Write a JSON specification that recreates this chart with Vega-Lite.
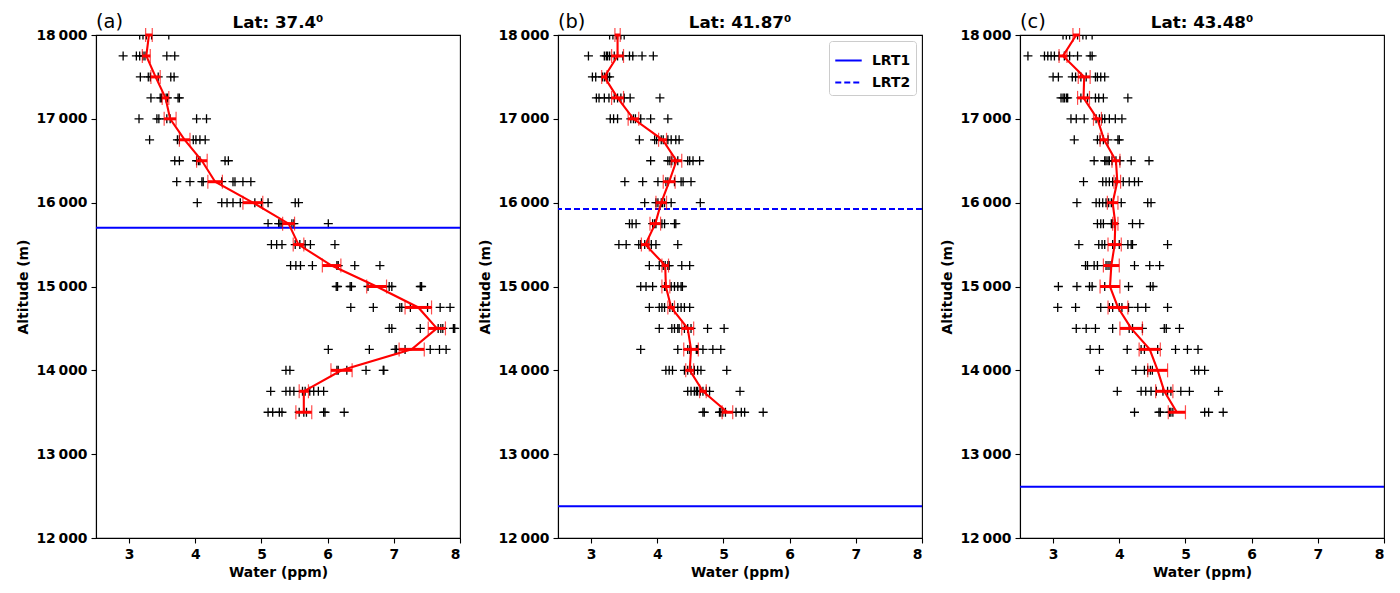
{
  "$schema": "https://vega.github.io/schema/vega-lite/v6.json",
  "background": "white",
  "padding": {"left": 16, "top": 10, "right": 5, "bottom": 5},
  "config": {
    "font": "DejaVu Sans",
    "view": {"stroke": "black", "strokeWidth": 1.1},
    "axis": {
      "grid": false,
      "labelFont": "DejaVu Sans",
      "labelFontWeight": "bold",
      "labelFontSize": 13.9,
      "labelColor": "black",
      "titleFont": "DejaVu Sans",
      "titleFontWeight": "bold",
      "titleFontSize": 13.9,
      "titleColor": "black",
      "tickColor": "black",
      "tickWidth": 1.1,
      "tickSize": 5,
      "labelPadding": 4,
      "titlePadding": 5,
      "domainColor": "black",
      "domainWidth": 1.1
    },
    "legend": {
      "labelFont": "DejaVu Sans",
      "labelFontSize": 13.9,
      "labelFontWeight": "bold",
      "labelColor": "black"
    }
  },
  "datasets": {
    "pts": [
      {"p":"a","alt":18000,"w":3.16},{"p":"a","alt":18000,"w":3.21},{"p":"a","alt":18000,"w":3.26},{"p":"a","alt":18000,"w":3.34},{"p":"a","alt":18000,"w":3.60},
      {"p":"a","alt":17750,"w":2.91},{"p":"a","alt":17750,"w":3.11},{"p":"a","alt":17750,"w":3.16},{"p":"a","alt":17750,"w":3.21},{"p":"a","alt":17750,"w":3.24},{"p":"a","alt":17750,"w":3.57},{"p":"a","alt":17750,"w":3.69},
      {"p":"a","alt":17500,"w":3.17},{"p":"a","alt":17500,"w":3.29},{"p":"a","alt":17500,"w":3.32},{"p":"a","alt":17500,"w":3.44},{"p":"a","alt":17500,"w":3.63},{"p":"a","alt":17500,"w":3.68},
      {"p":"a","alt":17250,"w":3.33},{"p":"a","alt":17250,"w":3.47},{"p":"a","alt":17250,"w":3.49},{"p":"a","alt":17250,"w":3.56},{"p":"a","alt":17250,"w":3.58},{"p":"a","alt":17250,"w":3.74},{"p":"a","alt":17250,"w":3.76},
      {"p":"a","alt":17000,"w":3.15},{"p":"a","alt":17000,"w":3.42},{"p":"a","alt":17000,"w":3.45},{"p":"a","alt":17000,"w":3.57},{"p":"a","alt":17000,"w":3.62},{"p":"a","alt":17000,"w":4.02},{"p":"a","alt":17000,"w":4.17},
      {"p":"a","alt":16750,"w":3.31},{"p":"a","alt":16750,"w":3.73},{"p":"a","alt":16750,"w":3.76},{"p":"a","alt":16750,"w":3.97},{"p":"a","alt":16750,"w":4.01},{"p":"a","alt":16750,"w":4.07},{"p":"a","alt":16750,"w":4.15},
      {"p":"a","alt":16500,"w":3.69},{"p":"a","alt":16500,"w":3.76},{"p":"a","alt":16500,"w":4.02},{"p":"a","alt":16500,"w":4.05},{"p":"a","alt":16500,"w":4.07},{"p":"a","alt":16500,"w":4.45},{"p":"a","alt":16500,"w":4.50},
      {"p":"a","alt":16250,"w":3.72},{"p":"a","alt":16250,"w":3.92},{"p":"a","alt":16250,"w":4.10},{"p":"a","alt":16250,"w":4.12},{"p":"a","alt":16250,"w":4.40},{"p":"a","alt":16250,"w":4.57},{"p":"a","alt":16250,"w":4.60},{"p":"a","alt":16250,"w":4.72},{"p":"a","alt":16250,"w":4.84},
      {"p":"a","alt":16000,"w":4.03},{"p":"a","alt":16000,"w":4.40},{"p":"a","alt":16000,"w":4.48},{"p":"a","alt":16000,"w":4.57},{"p":"a","alt":16000,"w":4.68},{"p":"a","alt":16000,"w":4.90},{"p":"a","alt":16000,"w":5.00},{"p":"a","alt":16000,"w":5.10},{"p":"a","alt":16000,"w":5.51},{"p":"a","alt":16000,"w":5.56},
      {"p":"a","alt":15750,"w":5.10},{"p":"a","alt":15750,"w":5.26},{"p":"a","alt":15750,"w":5.28},{"p":"a","alt":15750,"w":5.31},{"p":"a","alt":15750,"w":5.46},{"p":"a","alt":15750,"w":5.49},{"p":"a","alt":15750,"w":6.01},
      {"p":"a","alt":15500,"w":5.15},{"p":"a","alt":15500,"w":5.23},{"p":"a","alt":15500,"w":5.31},{"p":"a","alt":15500,"w":5.51},{"p":"a","alt":15500,"w":5.58},{"p":"a","alt":15500,"w":5.66},{"p":"a","alt":15500,"w":5.74},{"p":"a","alt":15500,"w":6.11},
      {"p":"a","alt":15250,"w":5.44},{"p":"a","alt":15250,"w":5.52},{"p":"a","alt":15250,"w":5.59},{"p":"a","alt":15250,"w":5.77},{"p":"a","alt":15250,"w":6.14},{"p":"a","alt":15250,"w":6.16},{"p":"a","alt":15250,"w":6.41},{"p":"a","alt":15250,"w":6.79},
      {"p":"a","alt":15000,"w":6.13},{"p":"a","alt":15000,"w":6.15},{"p":"a","alt":15000,"w":6.34},{"p":"a","alt":15000,"w":6.36},{"p":"a","alt":15000,"w":6.61},{"p":"a","alt":15000,"w":6.93},{"p":"a","alt":15000,"w":6.97},{"p":"a","alt":15000,"w":7.40},{"p":"a","alt":15000,"w":7.42},
      {"p":"a","alt":14750,"w":6.35},{"p":"a","alt":14750,"w":6.69},{"p":"a","alt":14750,"w":7.09},{"p":"a","alt":14750,"w":7.12},{"p":"a","alt":14750,"w":7.25},{"p":"a","alt":14750,"w":7.51},{"p":"a","alt":14750,"w":7.70},{"p":"a","alt":14750,"w":7.85},
      {"p":"a","alt":14500,"w":6.93},{"p":"a","alt":14500,"w":6.97},{"p":"a","alt":14500,"w":7.40},{"p":"a","alt":14500,"w":7.67},{"p":"a","alt":14500,"w":7.71},{"p":"a","alt":14500,"w":7.74},{"p":"a","alt":14500,"w":7.90},{"p":"a","alt":14500,"w":7.92},
      {"p":"a","alt":14250,"w":6.01},{"p":"a","alt":14250,"w":6.63},{"p":"a","alt":14250,"w":7.02},{"p":"a","alt":14250,"w":7.04},{"p":"a","alt":14250,"w":7.17},{"p":"a","alt":14250,"w":7.55},{"p":"a","alt":14250,"w":7.69},{"p":"a","alt":14250,"w":7.79},
      {"p":"a","alt":14000,"w":5.37},{"p":"a","alt":14000,"w":5.43},{"p":"a","alt":14000,"w":6.14},{"p":"a","alt":14000,"w":6.16},{"p":"a","alt":14000,"w":6.29},{"p":"a","alt":14000,"w":6.58},{"p":"a","alt":14000,"w":6.84},{"p":"a","alt":14000,"w":6.85},
      {"p":"a","alt":13750,"w":5.14},{"p":"a","alt":13750,"w":5.37},{"p":"a","alt":13750,"w":5.43},{"p":"a","alt":13750,"w":5.49},{"p":"a","alt":13750,"w":5.62},{"p":"a","alt":13750,"w":5.66},{"p":"a","alt":13750,"w":5.73},{"p":"a","alt":13750,"w":5.79},{"p":"a","alt":13750,"w":5.86},{"p":"a","alt":13750,"w":5.94},
      {"p":"a","alt":13500,"w":5.10},{"p":"a","alt":13500,"w":5.17},{"p":"a","alt":13500,"w":5.27},{"p":"a","alt":13500,"w":5.31},{"p":"a","alt":13500,"w":5.57},{"p":"a","alt":13500,"w":5.64},{"p":"a","alt":13500,"w":5.68},{"p":"a","alt":13500,"w":5.94},{"p":"a","alt":13500,"w":5.96},{"p":"a","alt":13500,"w":6.25},
      {"p":"b","alt":18000,"w":3.28},{"p":"b","alt":18000,"w":3.33},{"p":"b","alt":18000,"w":3.38},{"p":"b","alt":18000,"w":3.40},{"p":"b","alt":18000,"w":3.45},{"p":"b","alt":18000,"w":3.50},
      {"p":"b","alt":17750,"w":2.96},{"p":"b","alt":17750,"w":3.20},{"p":"b","alt":17750,"w":3.23},{"p":"b","alt":17750,"w":3.25},{"p":"b","alt":17750,"w":3.28},{"p":"b","alt":17750,"w":3.35},{"p":"b","alt":17750,"w":3.40},{"p":"b","alt":17750,"w":3.48},{"p":"b","alt":17750,"w":3.58},{"p":"b","alt":17750,"w":3.63},{"p":"b","alt":17750,"w":3.77},{"p":"b","alt":17750,"w":3.94},
      {"p":"b","alt":17500,"w":3.02},{"p":"b","alt":17500,"w":3.07},{"p":"b","alt":17500,"w":3.17},{"p":"b","alt":17500,"w":3.20},{"p":"b","alt":17500,"w":3.23},{"p":"b","alt":17500,"w":3.25},{"p":"b","alt":17500,"w":3.28},
      {"p":"b","alt":17250,"w":3.08},{"p":"b","alt":17250,"w":3.12},{"p":"b","alt":17250,"w":3.20},{"p":"b","alt":17250,"w":3.27},{"p":"b","alt":17250,"w":3.35},{"p":"b","alt":17250,"w":3.40},{"p":"b","alt":17250,"w":3.45},{"p":"b","alt":17250,"w":3.50},{"p":"b","alt":17250,"w":3.59},{"p":"b","alt":17250,"w":4.04},
      {"p":"b","alt":17000,"w":3.29},{"p":"b","alt":17000,"w":3.34},{"p":"b","alt":17000,"w":3.40},{"p":"b","alt":17000,"w":3.60},{"p":"b","alt":17000,"w":3.64},{"p":"b","alt":17000,"w":3.67},{"p":"b","alt":17000,"w":3.75},{"p":"b","alt":17000,"w":3.90},{"p":"b","alt":17000,"w":4.16},
      {"p":"b","alt":16750,"w":3.73},{"p":"b","alt":16750,"w":3.96},{"p":"b","alt":16750,"w":3.99},{"p":"b","alt":16750,"w":4.06},{"p":"b","alt":16750,"w":4.09},{"p":"b","alt":16750,"w":4.16},{"p":"b","alt":16750,"w":4.21},{"p":"b","alt":16750,"w":4.28},{"p":"b","alt":16750,"w":4.33},
      {"p":"b","alt":16500,"w":3.90},{"p":"b","alt":16500,"w":4.16},{"p":"b","alt":16500,"w":4.19},{"p":"b","alt":16500,"w":4.22},{"p":"b","alt":16500,"w":4.26},{"p":"b","alt":16500,"w":4.31},{"p":"b","alt":16500,"w":4.46},{"p":"b","alt":16500,"w":4.49},{"p":"b","alt":16500,"w":4.54},{"p":"b","alt":16500,"w":4.64},
      {"p":"b","alt":16250,"w":3.51},{"p":"b","alt":16250,"w":3.78},{"p":"b","alt":16250,"w":4.01},{"p":"b","alt":16250,"w":4.13},{"p":"b","alt":16250,"w":4.16},{"p":"b","alt":16250,"w":4.26},{"p":"b","alt":16250,"w":4.36},{"p":"b","alt":16250,"w":4.39},{"p":"b","alt":16250,"w":4.51},
      {"p":"b","alt":16000,"w":3.81},{"p":"b","alt":16000,"w":3.98},{"p":"b","alt":16000,"w":4.01},{"p":"b","alt":16000,"w":4.06},{"p":"b","alt":16000,"w":4.08},{"p":"b","alt":16000,"w":4.11},{"p":"b","alt":16000,"w":4.21},{"p":"b","alt":16000,"w":4.65},
      {"p":"b","alt":15750,"w":3.58},{"p":"b","alt":15750,"w":3.62},{"p":"b","alt":15750,"w":3.68},{"p":"b","alt":15750,"w":3.93},{"p":"b","alt":15750,"w":3.96},{"p":"b","alt":15750,"w":3.98},{"p":"b","alt":15750,"w":4.07},{"p":"b","alt":15750,"w":4.11},{"p":"b","alt":15750,"w":4.26},{"p":"b","alt":15750,"w":4.28},
      {"p":"b","alt":15500,"w":3.42},{"p":"b","alt":15500,"w":3.53},{"p":"b","alt":15500,"w":3.72},{"p":"b","alt":15500,"w":3.75},{"p":"b","alt":15500,"w":3.81},{"p":"b","alt":15500,"w":3.86},{"p":"b","alt":15500,"w":3.91},{"p":"b","alt":15500,"w":3.98},{"p":"b","alt":15500,"w":4.31},
      {"p":"b","alt":15250,"w":3.88},{"p":"b","alt":15250,"w":4.03},{"p":"b","alt":15250,"w":4.09},{"p":"b","alt":15250,"w":4.12},{"p":"b","alt":15250,"w":4.16},{"p":"b","alt":15250,"w":4.18},{"p":"b","alt":15250,"w":4.37},{"p":"b","alt":15250,"w":4.49},
      {"p":"b","alt":15000,"w":3.75},{"p":"b","alt":15000,"w":3.83},{"p":"b","alt":15000,"w":3.93},{"p":"b","alt":15000,"w":4.11},{"p":"b","alt":15000,"w":4.13},{"p":"b","alt":15000,"w":4.21},{"p":"b","alt":15000,"w":4.26},{"p":"b","alt":15000,"w":4.31},{"p":"b","alt":15000,"w":4.36},{"p":"b","alt":15000,"w":4.38},
      {"p":"b","alt":14750,"w":3.88},{"p":"b","alt":14750,"w":4.03},{"p":"b","alt":14750,"w":4.07},{"p":"b","alt":14750,"w":4.11},{"p":"b","alt":14750,"w":4.19},{"p":"b","alt":14750,"w":4.23},{"p":"b","alt":14750,"w":4.31},{"p":"b","alt":14750,"w":4.36},{"p":"b","alt":14750,"w":4.41},{"p":"b","alt":14750,"w":4.49},
      {"p":"b","alt":14500,"w":4.03},{"p":"b","alt":14500,"w":4.22},{"p":"b","alt":14500,"w":4.26},{"p":"b","alt":14500,"w":4.31},{"p":"b","alt":14500,"w":4.33},{"p":"b","alt":14500,"w":4.41},{"p":"b","alt":14500,"w":4.46},{"p":"b","alt":14500,"w":4.51},{"p":"b","alt":14500,"w":4.76},{"p":"b","alt":14500,"w":5.01},
      {"p":"b","alt":14250,"w":3.75},{"p":"b","alt":14250,"w":4.31},{"p":"b","alt":14250,"w":4.46},{"p":"b","alt":14250,"w":4.49},{"p":"b","alt":14250,"w":4.59},{"p":"b","alt":14250,"w":4.61},{"p":"b","alt":14250,"w":4.69},{"p":"b","alt":14250,"w":4.84},{"p":"b","alt":14250,"w":4.96},
      {"p":"b","alt":14000,"w":4.13},{"p":"b","alt":14000,"w":4.18},{"p":"b","alt":14000,"w":4.23},{"p":"b","alt":14000,"w":4.41},{"p":"b","alt":14000,"w":4.46},{"p":"b","alt":14000,"w":4.51},{"p":"b","alt":14000,"w":4.56},{"p":"b","alt":14000,"w":4.61},{"p":"b","alt":14000,"w":4.66},{"p":"b","alt":14000,"w":5.05},
      {"p":"b","alt":13750,"w":4.46},{"p":"b","alt":13750,"w":4.51},{"p":"b","alt":13750,"w":4.56},{"p":"b","alt":13750,"w":4.59},{"p":"b","alt":13750,"w":4.61},{"p":"b","alt":13750,"w":4.65},{"p":"b","alt":13750,"w":4.69},{"p":"b","alt":13750,"w":4.74},{"p":"b","alt":13750,"w":4.79},{"p":"b","alt":13750,"w":5.25},
      {"p":"b","alt":13500,"w":4.69},{"p":"b","alt":13500,"w":4.71},{"p":"b","alt":13500,"w":4.94},{"p":"b","alt":13500,"w":4.96},{"p":"b","alt":13500,"w":4.99},{"p":"b","alt":13500,"w":5.03},{"p":"b","alt":13500,"w":5.19},{"p":"b","alt":13500,"w":5.27},{"p":"b","alt":13500,"w":5.32},{"p":"b","alt":13500,"w":5.60},
      {"p":"c","alt":18000,"w":3.15},{"p":"c","alt":18000,"w":3.20},{"p":"c","alt":18000,"w":3.25},{"p":"c","alt":18000,"w":3.37},{"p":"c","alt":18000,"w":3.45},{"p":"c","alt":18000,"w":3.50},{"p":"c","alt":18000,"w":3.59},
      {"p":"c","alt":17750,"w":2.62},{"p":"c","alt":17750,"w":2.87},{"p":"c","alt":17750,"w":2.92},{"p":"c","alt":17750,"w":2.97},{"p":"c","alt":17750,"w":3.02},{"p":"c","alt":17750,"w":3.09},{"p":"c","alt":17750,"w":3.17},{"p":"c","alt":17750,"w":3.25},{"p":"c","alt":17750,"w":3.37},{"p":"c","alt":17750,"w":3.56},{"p":"c","alt":17750,"w":3.59},
      {"p":"c","alt":17500,"w":3.00},{"p":"c","alt":17500,"w":3.08},{"p":"c","alt":17500,"w":3.29},{"p":"c","alt":17500,"w":3.34},{"p":"c","alt":17500,"w":3.42},{"p":"c","alt":17500,"w":3.50},{"p":"c","alt":17500,"w":3.64},{"p":"c","alt":17500,"w":3.67},{"p":"c","alt":17500,"w":3.72},{"p":"c","alt":17500,"w":3.78},
      {"p":"c","alt":17250,"w":3.12},{"p":"c","alt":17250,"w":3.15},{"p":"c","alt":17250,"w":3.17},{"p":"c","alt":17250,"w":3.20},{"p":"c","alt":17250,"w":3.22},{"p":"c","alt":17250,"w":3.42},{"p":"c","alt":17250,"w":3.52},{"p":"c","alt":17250,"w":3.64},{"p":"c","alt":17250,"w":3.69},{"p":"c","alt":17250,"w":3.76},{"p":"c","alt":17250,"w":4.13},
      {"p":"c","alt":17000,"w":3.27},{"p":"c","alt":17000,"w":3.35},{"p":"c","alt":17000,"w":3.47},{"p":"c","alt":17000,"w":3.65},{"p":"c","alt":17000,"w":3.70},{"p":"c","alt":17000,"w":3.74},{"p":"c","alt":17000,"w":3.78},{"p":"c","alt":17000,"w":3.85},{"p":"c","alt":17000,"w":3.94},{"p":"c","alt":17000,"w":4.04},
      {"p":"c","alt":16750,"w":3.32},{"p":"c","alt":16750,"w":3.67},{"p":"c","alt":16750,"w":3.71},{"p":"c","alt":16750,"w":3.76},{"p":"c","alt":16750,"w":3.83},{"p":"c","alt":16750,"w":3.98},{"p":"c","alt":16750,"w":4.00},
      {"p":"c","alt":16500,"w":3.62},{"p":"c","alt":16500,"w":3.78},{"p":"c","alt":16500,"w":3.80},{"p":"c","alt":16500,"w":3.83},{"p":"c","alt":16500,"w":3.85},{"p":"c","alt":16500,"w":3.89},{"p":"c","alt":16500,"w":3.95},{"p":"c","alt":16500,"w":4.01},{"p":"c","alt":16500,"w":4.18},{"p":"c","alt":16500,"w":4.45},
      {"p":"c","alt":16250,"w":3.46},{"p":"c","alt":16250,"w":3.75},{"p":"c","alt":16250,"w":3.80},{"p":"c","alt":16250,"w":3.85},{"p":"c","alt":16250,"w":3.90},{"p":"c","alt":16250,"w":3.95},{"p":"c","alt":16250,"w":4.06},{"p":"c","alt":16250,"w":4.15},{"p":"c","alt":16250,"w":4.23},{"p":"c","alt":16250,"w":4.29},
      {"p":"c","alt":16000,"w":3.36},{"p":"c","alt":16000,"w":3.65},{"p":"c","alt":16000,"w":3.70},{"p":"c","alt":16000,"w":3.75},{"p":"c","alt":16000,"w":3.80},{"p":"c","alt":16000,"w":3.84},{"p":"c","alt":16000,"w":3.88},{"p":"c","alt":16000,"w":4.03},{"p":"c","alt":16000,"w":4.43},{"p":"c","alt":16000,"w":4.48},
      {"p":"c","alt":15750,"w":3.67},{"p":"c","alt":15750,"w":3.72},{"p":"c","alt":15750,"w":3.76},{"p":"c","alt":15750,"w":3.88},{"p":"c","alt":15750,"w":3.90},{"p":"c","alt":15750,"w":3.93},{"p":"c","alt":15750,"w":4.20},{"p":"c","alt":15750,"w":4.31},
      {"p":"c","alt":15500,"w":3.39},{"p":"c","alt":15500,"w":3.69},{"p":"c","alt":15500,"w":3.74},{"p":"c","alt":15500,"w":3.78},{"p":"c","alt":15500,"w":3.90},{"p":"c","alt":15500,"w":3.93},{"p":"c","alt":15500,"w":4.00},{"p":"c","alt":15500,"w":4.13},{"p":"c","alt":15500,"w":4.18},{"p":"c","alt":15500,"w":4.20},{"p":"c","alt":15500,"w":4.73},
      {"p":"c","alt":15250,"w":3.49},{"p":"c","alt":15250,"w":3.52},{"p":"c","alt":15250,"w":3.62},{"p":"c","alt":15250,"w":3.67},{"p":"c","alt":15250,"w":3.80},{"p":"c","alt":15250,"w":3.83},{"p":"c","alt":15250,"w":3.86},{"p":"c","alt":15250,"w":4.23},{"p":"c","alt":15250,"w":4.46},{"p":"c","alt":15250,"w":4.61},
      {"p":"c","alt":15000,"w":3.08},{"p":"c","alt":15000,"w":3.36},{"p":"c","alt":15000,"w":3.55},{"p":"c","alt":15000,"w":3.59},{"p":"c","alt":15000,"w":3.78},{"p":"c","alt":15000,"w":4.14},{"p":"c","alt":15000,"w":4.47},{"p":"c","alt":15000,"w":4.51},
      {"p":"c","alt":14750,"w":3.07},{"p":"c","alt":14750,"w":3.34},{"p":"c","alt":14750,"w":3.72},{"p":"c","alt":14750,"w":3.85},{"p":"c","alt":14750,"w":3.90},{"p":"c","alt":14750,"w":4.00},{"p":"c","alt":14750,"w":4.04},{"p":"c","alt":14750,"w":4.14},{"p":"c","alt":14750,"w":4.28},{"p":"c","alt":14750,"w":4.40},{"p":"c","alt":14750,"w":4.73},
      {"p":"c","alt":14500,"w":3.35},{"p":"c","alt":14500,"w":3.50},{"p":"c","alt":14500,"w":3.64},{"p":"c","alt":14500,"w":3.90},{"p":"c","alt":14500,"w":4.15},{"p":"c","alt":14500,"w":4.20},{"p":"c","alt":14500,"w":4.35},{"p":"c","alt":14500,"w":4.68},{"p":"c","alt":14500,"w":4.71},{"p":"c","alt":14500,"w":4.91},
      {"p":"c","alt":14250,"w":3.56},{"p":"c","alt":14250,"w":3.70},{"p":"c","alt":14250,"w":4.12},{"p":"c","alt":14250,"w":4.33},{"p":"c","alt":14250,"w":4.38},{"p":"c","alt":14250,"w":4.58},{"p":"c","alt":14250,"w":4.85},{"p":"c","alt":14250,"w":5.03},{"p":"c","alt":14250,"w":5.19},
      {"p":"c","alt":14000,"w":3.70},{"p":"c","alt":14000,"w":4.25},{"p":"c","alt":14000,"w":4.38},{"p":"c","alt":14000,"w":4.43},{"p":"c","alt":14000,"w":4.47},{"p":"c","alt":14000,"w":4.50},{"p":"c","alt":14000,"w":5.14},{"p":"c","alt":14000,"w":5.20},{"p":"c","alt":14000,"w":5.29},
      {"p":"c","alt":13750,"w":3.97},{"p":"c","alt":13750,"w":4.33},{"p":"c","alt":13750,"w":4.40},{"p":"c","alt":13750,"w":4.48},{"p":"c","alt":13750,"w":4.56},{"p":"c","alt":13750,"w":4.66},{"p":"c","alt":13750,"w":4.73},{"p":"c","alt":13750,"w":4.78},{"p":"c","alt":13750,"w":4.93},{"p":"c","alt":13750,"w":5.06},{"p":"c","alt":13750,"w":5.50},
      {"p":"c","alt":13500,"w":4.23},{"p":"c","alt":13500,"w":4.60},{"p":"c","alt":13500,"w":4.62},{"p":"c","alt":13500,"w":4.76},{"p":"c","alt":13500,"w":4.78},{"p":"c","alt":13500,"w":4.81},{"p":"c","alt":13500,"w":5.29},{"p":"c","alt":13500,"w":5.35},{"p":"c","alt":13500,"w":5.57}
    ],
    "stats": [
      {"p":"a","alt":18000,"m":3.30,"lo":3.25,"hi":3.35},
      {"p":"a","alt":17750,"m":3.26,"lo":3.20,"hi":3.32},
      {"p":"a","alt":17500,"m":3.40,"lo":3.33,"hi":3.47},
      {"p":"a","alt":17250,"m":3.55,"lo":3.50,"hi":3.60},
      {"p":"a","alt":17000,"m":3.62,"lo":3.53,"hi":3.71},
      {"p":"a","alt":16750,"m":3.84,"lo":3.76,"hi":3.92},
      {"p":"a","alt":16500,"m":4.10,"lo":4.02,"hi":4.18},
      {"p":"a","alt":16250,"m":4.30,"lo":4.19,"hi":4.41},
      {"p":"a","alt":16000,"m":4.87,"lo":4.72,"hi":5.02},
      {"p":"a","alt":15750,"m":5.41,"lo":5.32,"hi":5.50},
      {"p":"a","alt":15500,"m":5.56,"lo":5.48,"hi":5.64},
      {"p":"a","alt":15250,"m":6.06,"lo":5.92,"hi":6.20},
      {"p":"a","alt":15000,"m":6.74,"lo":6.59,"hi":6.89},
      {"p":"a","alt":14750,"m":7.37,"lo":7.17,"hi":7.57},
      {"p":"a","alt":14500,"m":7.65,"lo":7.52,"hi":7.78},
      {"p":"a","alt":14250,"m":7.27,"lo":7.08,"hi":7.46},
      {"p":"a","alt":14000,"m":6.21,"lo":6.05,"hi":6.37},
      {"p":"a","alt":13750,"m":5.64,"lo":5.57,"hi":5.71},
      {"p":"a","alt":13500,"m":5.64,"lo":5.52,"hi":5.76},
      {"p":"b","alt":18000,"m":3.40,"lo":3.36,"hi":3.44},
      {"p":"b","alt":17750,"m":3.40,"lo":3.31,"hi":3.49},
      {"p":"b","alt":17500,"m":3.20,"lo":3.16,"hi":3.24},
      {"p":"b","alt":17250,"m":3.40,"lo":3.31,"hi":3.49},
      {"p":"b","alt":17000,"m":3.64,"lo":3.56,"hi":3.72},
      {"p":"b","alt":16750,"m":4.08,"lo":4.02,"hi":4.14},
      {"p":"b","alt":16500,"m":4.29,"lo":4.21,"hi":4.37},
      {"p":"b","alt":16250,"m":4.18,"lo":4.09,"hi":4.27},
      {"p":"b","alt":16000,"m":4.06,"lo":3.98,"hi":4.14},
      {"p":"b","alt":15750,"m":3.97,"lo":3.89,"hi":4.05},
      {"p":"b","alt":15500,"m":3.82,"lo":3.76,"hi":3.88},
      {"p":"b","alt":15250,"m":4.12,"lo":4.07,"hi":4.17},
      {"p":"b","alt":15000,"m":4.13,"lo":4.07,"hi":4.19},
      {"p":"b","alt":14750,"m":4.21,"lo":4.16,"hi":4.26},
      {"p":"b","alt":14500,"m":4.46,"lo":4.37,"hi":4.55},
      {"p":"b","alt":14250,"m":4.51,"lo":4.40,"hi":4.62},
      {"p":"b","alt":14000,"m":4.49,"lo":4.43,"hi":4.55},
      {"p":"b","alt":13750,"m":4.69,"lo":4.64,"hi":4.74},
      {"p":"b","alt":13500,"m":5.06,"lo":4.98,"hi":5.14},
      {"p":"c","alt":18000,"m":3.35,"lo":3.30,"hi":3.40},
      {"p":"c","alt":17750,"m":3.15,"lo":3.09,"hi":3.21},
      {"p":"c","alt":17500,"m":3.47,"lo":3.38,"hi":3.56},
      {"p":"c","alt":17250,"m":3.46,"lo":3.37,"hi":3.55},
      {"p":"c","alt":17000,"m":3.67,"lo":3.61,"hi":3.73},
      {"p":"c","alt":16750,"m":3.77,"lo":3.71,"hi":3.83},
      {"p":"c","alt":16500,"m":3.95,"lo":3.89,"hi":4.01},
      {"p":"c","alt":16250,"m":3.97,"lo":3.92,"hi":4.02},
      {"p":"c","alt":16000,"m":3.90,"lo":3.82,"hi":3.98},
      {"p":"c","alt":15750,"m":3.94,"lo":3.90,"hi":3.98},
      {"p":"c","alt":15500,"m":3.93,"lo":3.83,"hi":4.03},
      {"p":"c","alt":15250,"m":3.88,"lo":3.76,"hi":4.00},
      {"p":"c","alt":15000,"m":3.86,"lo":3.71,"hi":4.01},
      {"p":"c","alt":14750,"m":3.98,"lo":3.83,"hi":4.13},
      {"p":"c","alt":14500,"m":4.18,"lo":4.01,"hi":4.35},
      {"p":"c","alt":14250,"m":4.46,"lo":4.30,"hi":4.62},
      {"p":"c","alt":14000,"m":4.58,"lo":4.43,"hi":4.73},
      {"p":"c","alt":13750,"m":4.68,"lo":4.55,"hi":4.81},
      {"p":"c","alt":13500,"m":4.87,"lo":4.74,"hi":5.00}
    ],
    "lrt": [
      {"p":"a","alt":15700,"name":"LRT1"},
      {"p":"b","alt":12380,"name":"LRT1"},
      {"p":"b","alt":15925,"name":"LRT2"},
      {"p":"c","alt":12610,"name":"LRT1"}
    ],
    "tags": [
      {"p":"a","tag":"(a)","lat":"Lat: 37.4⁰"},
      {"p":"b","tag":"(b)","lat":"Lat: 41.87⁰"},
      {"p":"c","tag":"(c)","lat":"Lat: 43.48⁰"}
    ]
  },
  "spacing": 16,
  "resolve": {"legend": {"strokeDash": "independent"}},
  "hconcat": [
    {
      "width": 364,
      "height": 503,
      "layer": [
        {
          "data": {"name": "pts"},
          "transform": [{"filter": "datum.p == 'a'"}],
          "mark": {"type": "point", "shape": "M-1,0L1,0M0,-1L0,1", "filled": false, "stroke": "black", "strokeWidth": 1.3, "size": 81, "opacity": 1, "clip": true},
          "encoding": {
            "x": {"field": "w", "type": "quantitative", "scale": {"domain": [2.5, 8], "nice": false, "zero": false}, "axis": {"values": [3, 4, 5, 6, 7, 8], "format": "d", "title": "Water (ppm)"}},
            "y": {"field": "alt", "type": "quantitative", "scale": {"domain": [12000, 18000], "nice": false, "zero": false}, "axis": {"values": [12000, 13000, 14000, 15000, 16000, 17000, 18000], "title": "Altitude (m)", "labelExpr": "replace(format(datum.value, ','), ',', '\u2009')"}}
          }
        },
        {
          "data": {"name": "lrt"},
          "transform": [{"filter": "datum.p == 'a'"}],
          "mark": {"type": "rule", "color": "#0000ff", "strokeWidth": 2},
          "encoding": {"y": {"field": "alt", "type": "quantitative"}}
        },
        {
          "data": {"name": "stats"},
          "transform": [{"filter": "datum.p == 'a'"}],
          "mark": {"type": "rule", "color": "#ff0000", "strokeWidth": 3},
          "encoding": {"x": {"field": "lo", "type": "quantitative"}, "x2": {"field": "hi"}, "y": {"field": "alt", "type": "quantitative"}}
        },
        {
          "data": {"name": "stats"},
          "transform": [{"filter": "datum.p == 'a'"}],
          "mark": {"type": "tick", "orient": "vertical", "color": "#ff0000", "size": 14, "thickness": 1.2},
          "encoding": {"x": {"field": "lo", "type": "quantitative"}, "y": {"field": "alt", "type": "quantitative"}}
        },
        {
          "data": {"name": "stats"},
          "transform": [{"filter": "datum.p == 'a'"}],
          "mark": {"type": "tick", "orient": "vertical", "color": "#ff0000", "size": 14, "thickness": 1.2},
          "encoding": {"x": {"field": "hi", "type": "quantitative"}, "y": {"field": "alt", "type": "quantitative"}}
        },
        {
          "data": {"name": "stats"},
          "transform": [{"filter": "datum.p == 'a'"}],
          "mark": {"type": "line", "color": "#ff0000", "strokeWidth": 2.1, "clip": true},
          "encoding": {"x": {"field": "m", "type": "quantitative"}, "y": {"field": "alt", "type": "quantitative"}, "order": {"field": "alt", "type": "quantitative"}}
        },
        {
          "data": {"name": "tags"},
          "transform": [{"filter": "datum.p == 'a'"}],
          "mark": {"type": "text", "align": "left", "baseline": "alphabetic", "dy": -7.5, "fontSize": 19.4, "color": "black"},
          "encoding": {"x": {"datum": 2.5}, "y": {"datum": 18000}, "text": {"field": "tag"}}
        },
        {
          "data": {"name": "tags"},
          "transform": [{"filter": "datum.p == 'a'"}],
          "mark": {"type": "text", "align": "center", "baseline": "alphabetic", "dy": -7.5, "fontSize": 16.7, "fontWeight": "bold", "color": "black"},
          "encoding": {"x": {"datum": 5.25}, "y": {"datum": 18000}, "text": {"field": "lat"}}
        }
      ]
    },
    {
      "width": 364,
      "height": 503,
      "layer": [
        {
          "data": {"name": "pts"},
          "transform": [{"filter": "datum.p == 'b'"}],
          "mark": {"type": "point", "shape": "M-1,0L1,0M0,-1L0,1", "filled": false, "stroke": "black", "strokeWidth": 1.3, "size": 81, "opacity": 1, "clip": true},
          "encoding": {
            "x": {"field": "w", "type": "quantitative", "scale": {"domain": [2.5, 8], "nice": false, "zero": false}, "axis": {"values": [3, 4, 5, 6, 7, 8], "format": "d", "title": "Water (ppm)"}},
            "y": {"field": "alt", "type": "quantitative", "scale": {"domain": [12000, 18000], "nice": false, "zero": false}, "axis": {"values": [12000, 13000, 14000, 15000, 16000, 17000, 18000], "title": "Altitude (m)", "labelExpr": "replace(format(datum.value, ','), ',', '\u2009')"}}
          }
        },
        {
          "data": {"name": "lrt"},
          "transform": [{"filter": "datum.p == 'b'"}],
          "mark": {"type": "rule", "color": "#0000ff", "strokeWidth": 2},
          "encoding": {
            "y": {"field": "alt", "type": "quantitative"},
            "strokeDash": {
              "field": "name",
              "type": "nominal",
              "scale": {"domain": ["LRT1", "LRT2"], "range": [[1, 0], [6, 3]]},
              "legend": {
                "title": null,
                "orient": "top-right",
                "offset": 6,
                "padding": 5,
                "fillColor": "white",
                "strokeColor": "#cccccc",
                "cornerRadius": 3,
                "symbolType": "stroke",
                "symbolSize": 700,
                "symbolStrokeWidth": 2,
                "symbolStrokeColor": "#0000ff",
                "rowPadding": -10,
                "labelOffset": 9
              }
            }
          }
        },
        {
          "data": {"name": "stats"},
          "transform": [{"filter": "datum.p == 'b'"}],
          "mark": {"type": "rule", "color": "#ff0000", "strokeWidth": 3},
          "encoding": {"x": {"field": "lo", "type": "quantitative"}, "x2": {"field": "hi"}, "y": {"field": "alt", "type": "quantitative"}}
        },
        {
          "data": {"name": "stats"},
          "transform": [{"filter": "datum.p == 'b'"}],
          "mark": {"type": "tick", "orient": "vertical", "color": "#ff0000", "size": 14, "thickness": 1.2},
          "encoding": {"x": {"field": "lo", "type": "quantitative"}, "y": {"field": "alt", "type": "quantitative"}}
        },
        {
          "data": {"name": "stats"},
          "transform": [{"filter": "datum.p == 'b'"}],
          "mark": {"type": "tick", "orient": "vertical", "color": "#ff0000", "size": 14, "thickness": 1.2},
          "encoding": {"x": {"field": "hi", "type": "quantitative"}, "y": {"field": "alt", "type": "quantitative"}}
        },
        {
          "data": {"name": "stats"},
          "transform": [{"filter": "datum.p == 'b'"}],
          "mark": {"type": "line", "color": "#ff0000", "strokeWidth": 2.1, "clip": true},
          "encoding": {"x": {"field": "m", "type": "quantitative"}, "y": {"field": "alt", "type": "quantitative"}, "order": {"field": "alt", "type": "quantitative"}}
        },
        {
          "data": {"name": "tags"},
          "transform": [{"filter": "datum.p == 'b'"}],
          "mark": {"type": "text", "align": "left", "baseline": "alphabetic", "dy": -7.5, "fontSize": 19.4, "color": "black"},
          "encoding": {"x": {"datum": 2.5}, "y": {"datum": 18000}, "text": {"field": "tag"}}
        },
        {
          "data": {"name": "tags"},
          "transform": [{"filter": "datum.p == 'b'"}],
          "mark": {"type": "text", "align": "center", "baseline": "alphabetic", "dy": -7.5, "fontSize": 16.7, "fontWeight": "bold", "color": "black"},
          "encoding": {"x": {"datum": 5.25}, "y": {"datum": 18000}, "text": {"field": "lat"}}
        }
      ]
    },
    {
      "width": 364,
      "height": 503,
      "layer": [
        {
          "data": {"name": "pts"},
          "transform": [{"filter": "datum.p == 'c'"}],
          "mark": {"type": "point", "shape": "M-1,0L1,0M0,-1L0,1", "filled": false, "stroke": "black", "strokeWidth": 1.3, "size": 81, "opacity": 1, "clip": true},
          "encoding": {
            "x": {"field": "w", "type": "quantitative", "scale": {"domain": [2.5, 8], "nice": false, "zero": false}, "axis": {"values": [3, 4, 5, 6, 7, 8], "format": "d", "title": "Water (ppm)"}},
            "y": {"field": "alt", "type": "quantitative", "scale": {"domain": [12000, 18000], "nice": false, "zero": false}, "axis": {"values": [12000, 13000, 14000, 15000, 16000, 17000, 18000], "title": "Altitude (m)", "labelExpr": "replace(format(datum.value, ','), ',', '\u2009')"}}
          }
        },
        {
          "data": {"name": "lrt"},
          "transform": [{"filter": "datum.p == 'c'"}],
          "mark": {"type": "rule", "color": "#0000ff", "strokeWidth": 2},
          "encoding": {"y": {"field": "alt", "type": "quantitative"}}
        },
        {
          "data": {"name": "stats"},
          "transform": [{"filter": "datum.p == 'c'"}],
          "mark": {"type": "rule", "color": "#ff0000", "strokeWidth": 3},
          "encoding": {"x": {"field": "lo", "type": "quantitative"}, "x2": {"field": "hi"}, "y": {"field": "alt", "type": "quantitative"}}
        },
        {
          "data": {"name": "stats"},
          "transform": [{"filter": "datum.p == 'c'"}],
          "mark": {"type": "tick", "orient": "vertical", "color": "#ff0000", "size": 14, "thickness": 1.2},
          "encoding": {"x": {"field": "lo", "type": "quantitative"}, "y": {"field": "alt", "type": "quantitative"}}
        },
        {
          "data": {"name": "stats"},
          "transform": [{"filter": "datum.p == 'c'"}],
          "mark": {"type": "tick", "orient": "vertical", "color": "#ff0000", "size": 14, "thickness": 1.2},
          "encoding": {"x": {"field": "hi", "type": "quantitative"}, "y": {"field": "alt", "type": "quantitative"}}
        },
        {
          "data": {"name": "stats"},
          "transform": [{"filter": "datum.p == 'c'"}],
          "mark": {"type": "line", "color": "#ff0000", "strokeWidth": 2.1, "clip": true},
          "encoding": {"x": {"field": "m", "type": "quantitative"}, "y": {"field": "alt", "type": "quantitative"}, "order": {"field": "alt", "type": "quantitative"}}
        },
        {
          "data": {"name": "tags"},
          "transform": [{"filter": "datum.p == 'c'"}],
          "mark": {"type": "text", "align": "left", "baseline": "alphabetic", "dy": -7.5, "fontSize": 19.4, "color": "black"},
          "encoding": {"x": {"datum": 2.5}, "y": {"datum": 18000}, "text": {"field": "tag"}}
        },
        {
          "data": {"name": "tags"},
          "transform": [{"filter": "datum.p == 'c'"}],
          "mark": {"type": "text", "align": "center", "baseline": "alphabetic", "dy": -7.5, "fontSize": 16.7, "fontWeight": "bold", "color": "black"},
          "encoding": {"x": {"datum": 5.25}, "y": {"datum": 18000}, "text": {"field": "lat"}}
        }
      ]
    }
  ]
}
